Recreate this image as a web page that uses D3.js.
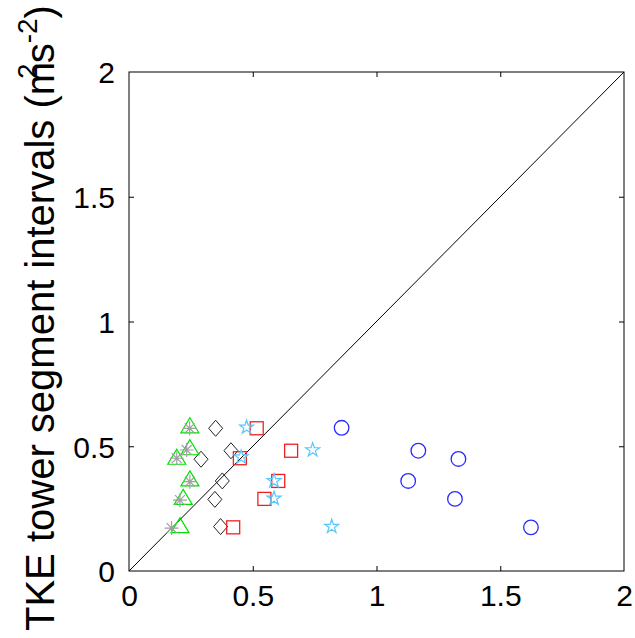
<!DOCTYPE html>
<html><head><meta charset="utf-8">
<script src="https://cdn.jsdelivr.net/npm/d3@7"></script>
<style>body{margin:0;background:#fff}svg{display:block}</style>
</head><body>
<svg id="c" width="635" height="638"></svg>
<script>
const xTicks = [0, 0.5, 1, 1.5, 2];
const yTicks = [0, 0.5, 1, 1.5, 2];
const yLabel = "TKE tower segment intervals";
// series x-values vs y-values (TKE tower segment intervals)
const circlesX = [0.859, 1.169, 1.331, 1.128, 1.317, 1.624];
const circlesY = [0.574, 0.482, 0.449, 0.361, 0.289, 0.175];
const diamondsX = [0.350, 0.412, 0.291, 0.377, 0.347, 0.370];
const diamondsY = [0.572, 0.482, 0.448, 0.361, 0.287, 0.178];
const squaresX = [0.516, 0.655, 0.448, 0.603, 0.547, 0.421];
const squaresY = [0.572, 0.482, 0.452, 0.361, 0.289, 0.175];
const starsX = [0.475, 0.742, 0.453, 0.586, 0.586, 0.819];
const starsY = [0.576, 0.485, 0.456, 0.361, 0.291, 0.178];
const trianglesX = [0.246, 0.246, 0.193, 0.246, 0.219, 0.206];
const trianglesY = [0.578, 0.490, 0.452, 0.365, 0.291, 0.178];
const asterisksX = [0.245, 0.233, 0.193, 0.246, 0.206, 0.172];
const asterisksY = [0.572, 0.485, 0.452, 0.358, 0.284, 0.172];

const svg = d3.select("#c");
const L = 129, R = 624, T = 72, B = 571;
const x = d3.scaleLinear().domain([0, 2]).range([L, R]);
const y = d3.scaleLinear().domain([0, 2]).range([B, T]);
const font = "Arial, 'Liberation Sans', Helvetica, sans-serif";

// frame
svg.append("rect").attr("x", L).attr("y", T).attr("width", R - L).attr("height", B - T)
  .attr("fill", "none").attr("stroke", "#000").attr("stroke-width", 1);

// axes with inward ticks
const tl = 5;
const gx = svg.append("g").attr("transform", `translate(0,${B})`)
  .call(d3.axisBottom(x).tickValues(xTicks).tickSize(-tl).tickPadding(9 + tl).tickFormat(d3.format("")));
const gx2 = svg.append("g").attr("transform", `translate(0,${T})`)
  .call(d3.axisTop(x).tickValues(xTicks).tickSize(-tl).tickFormat(""));
const gy = svg.append("g").attr("transform", `translate(${L},0)`)
  .call(d3.axisLeft(y).tickValues(yTicks).tickSize(-tl).tickPadding(9 + tl).tickFormat(d3.format("")));
const gy2 = svg.append("g").attr("transform", `translate(${R},0)`)
  .call(d3.axisRight(y).tickValues(yTicks).tickSize(-tl).tickFormat(""));
[gx, gx2, gy, gy2].forEach(g => {
  g.select(".domain").remove();
  g.selectAll("line").attr("stroke", "#000");
  g.selectAll("text").attr("font-family", font).attr("font-size", 30).attr("fill", "#000");
});
gx.selectAll("text").attr("dy", "0.71em");
gy.selectAll("text").attr("dy", "0.36em");
gx.selectAll(".tick").filter(d => d === 0 || d === 2).select("line").remove();
gx2.selectAll(".tick").filter(d => d === 0 || d === 2).remove();
gy.selectAll(".tick").filter(d => d === 0 || d === 2).select("line").remove();
gy2.selectAll(".tick").filter(d => d === 0 || d === 2).remove();

// 1:1 line
svg.append("line").attr("x1", x(0)).attr("y1", y(0)).attr("x2", x(2)).attr("y2", y(2))
  .attr("stroke", "#000").attr("stroke-width", 1);

function pts(xs, ys) { return xs.map((v, i) => [x(v), y(ys[i])]); }

// circles
svg.append("g").selectAll("circle").data(pts(circlesX, circlesY)).join("circle")
  .attr("cx", d => d[0]).attr("cy", d => d[1]).attr("r", 7.3)
  .attr("fill", "none").attr("stroke", "#2a2aff").attr("stroke-width", 1.3);
// diamonds
svg.append("g").selectAll("path").data(pts(diamondsX, diamondsY)).join("path")
  .attr("d", d => `M${d[0]},${d[1] - 8}L${d[0] + 7},${d[1]}L${d[0]},${d[1] + 8}L${d[0] - 7},${d[1]}Z`)
  .attr("fill", "none").attr("stroke", "#222").attr("stroke-width", 1);
// squares
svg.append("g").selectAll("rect").data(pts(squaresX, squaresY)).join("rect")
  .attr("x", d => d[0] - 6.5).attr("y", d => d[1] - 6.5).attr("width", 13).attr("height", 13)
  .attr("fill", "none").attr("stroke", "#f02020").attr("stroke-width", 1.3);
// stars
const starPath = d3.symbol(d3.symbolStar, 60)();
svg.append("g").selectAll("path").data(pts(starsX, starsY)).join("path")
  .attr("transform", d => `translate(${d[0]},${d[1]})`).attr("d", starPath)
  .attr("fill", "none").attr("stroke", "#55c8ff").attr("stroke-width", 1.2);
// triangles
svg.append("g").selectAll("path").data(pts(trianglesX, trianglesY)).join("path")
  .attr("d", d => `M${d[0]},${d[1] - 9}L${d[0] + 9},${d[1] + 6}L${d[0] - 9},${d[1] + 6}Z`)
  .attr("fill", "none").attr("stroke", "#00e000").attr("stroke-width", 1.2);
// asterisks
svg.append("g").selectAll("path").data(pts(asterisksX, asterisksY)).join("path")
  .attr("d", d => {
    const r = 7; let s = "";
    for (let k = 0; k < 4; k++) {
      const a = k * Math.PI / 4;
      s += `M${d[0] - r * Math.cos(a)},${d[1] - r * Math.sin(a)}L${d[0] + r * Math.cos(a)},${d[1] + r * Math.sin(a)}`;
    }
    return s;
  })
  .attr("fill", "none").attr("stroke", "#a0a0a0").attr("stroke-width", 1.2);

// y label
const lab = svg.append("text").attr("transform", "translate(54,631) rotate(-90)")
  .attr("font-family", font).attr("font-size", 40).attr("fill", "#000");
lab.append("tspan").text(yLabel + " (m");
lab.append("tspan").attr("dy", -17).attr("dx", -17).attr("font-size", 28).text("2");
lab.append("tspan").attr("dy", 17).text("s");
lab.append("tspan").attr("dy", -17).attr("font-size", 28).text("-2");
lab.append("tspan").attr("dy", 17).text(")");
</script>
</body></html>
